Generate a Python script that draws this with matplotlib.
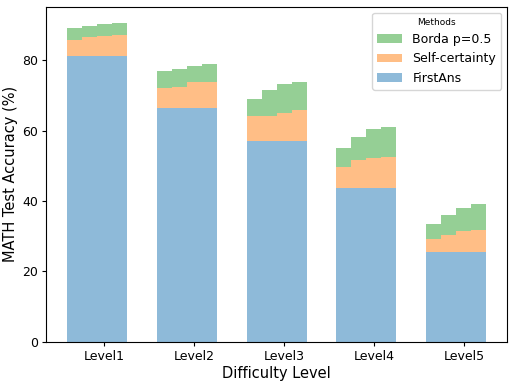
import numpy as np
import matplotlib
matplotlib.use("Agg")
import matplotlib.pyplot as plt

# MATH accuracy (%) per difficulty level, four settings per level
levels = ['Level1', 'Level2', 'Level3', 'Level4', 'Level5']
first_ans = [81.1, 66.3, 57.0, 43.6, 25.6]
self_certainty = [
    [85.7, 86.7, 86.9, 87.2],
    [72.2, 72.5, 73.8, 73.8],
    [64.2, 64.2, 65.0, 65.9],
    [49.7, 51.7, 52.2, 52.5],
    [29.2, 30.3, 31.4, 31.8],
]
borda = [
    [89.0, 89.7, 90.2, 90.7],
    [77.0, 77.6, 78.4, 78.8],
    [68.9, 71.6, 73.1, 73.7],
    [55.1, 58.3, 60.5, 61.1],
    [33.4, 35.9, 38.1, 39.1],
]

fig, ax = plt.subplots(figsize=(5.15, 3.85), dpi=100)
fig.subplots_adjust(left=0.089, right=0.985, top=0.983, bottom=0.112)

x = np.arange(len(levels))
width = 1 / 6
fa = np.array(first_ans)
sc = np.array(self_certainty)
bd = np.array(borda)

for j in range(4):
    pos = x + (j - 2) * width
    ax.bar(pos, fa, width, color='tab:blue', alpha=0.5,
           label='FirstAns' if j == 0 else None)
    ax.bar(pos, sc[:, j] - fa, width, bottom=fa, color='tab:orange', alpha=0.5,
           label='Self-certainty' if j == 0 else None)
    ax.bar(pos, bd[:, j] - sc[:, j], width, bottom=sc[:, j], color='tab:green', alpha=0.5,
           label='Borda p=0.5' if j == 0 else None)

ax.set_xticks(x)
ax.set_xticklabels(levels, fontsize=9)
ax.tick_params(axis='both', labelsize=9, length=2.8, pad=2.8, width=0.8)
for side in ax.spines.values():
    side.set_linewidth(0.8)
ax.set_xlabel('Difficulty Level', fontsize=10.5, labelpad=2.5)
ax.set_ylabel('MATH Test Accuracy (%)', fontsize=10.5, labelpad=3)

handles, labels = ax.get_legend_handles_labels()
order = [2, 1, 0]
ax.legend([handles[i] for i in order], [labels[i] for i in order],
          title='Methods', fontsize=9, title_fontsize=6.5, loc='upper right')

plt.savefig('out.png', dpi=100)
plt.close()
